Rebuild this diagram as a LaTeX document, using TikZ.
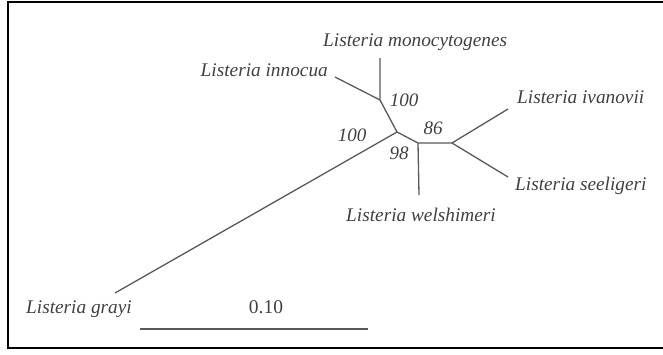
\documentclass[tikz,border=0pt]{standalone}
\usepackage{fontspec}
\setmainfont{Liberation Serif}
\begin{document}
\begin{tikzpicture}[x=1pt,y=-1pt,
  br/.style={draw=black!65, line width=1.3pt},
  lab/.style={inner sep=0pt, text=black!75, font=\fontsize{19.3}{22}\selectfont\itshape},
  num/.style={inner sep=0pt, text=black!75, font=\fontsize{19}{22}\selectfont\itshape},
  pt/.style={inner sep=0pt, minimum size=0pt}]
\useasboundingbox (0,0) rectangle (663,354);
\draw[line width=2pt] (663,2) -- (8,2) -- (8,348) -- (663,348);
% internal nodes
\coordinate (A) at (397,132);
\coordinate (B) at (380,100);
\coordinate (C) at (418,143);
\coordinate (D) at (452,143);
% leaf ends
\coordinate (gr) at (115,293);
\coordinate (mo) at (380,58);
\coordinate (in) at (335,77);
\coordinate (we) at (419,195);
\coordinate (iv) at (508,109);
\coordinate (se) at (508,177);
\draw[br] (gr) -- (A) -- (B) -- (mo);
\draw[br] (B) -- (in);
\draw[br] (A) -- (C) -- (D) -- (iv);
\draw[br] (C) -- (we);
\draw[br] (D) -- (se);
% labels
\node[lab, anchor=mid east] (Lgr) at (132,311) {Listeria grayi};
\node[lab, anchor=mid west] (Lmo) at (323,44) {Listeria monocytogenes};
\node[lab, anchor=mid east] (Lin) at (328,74) {Listeria innocua};
\node[lab, anchor=mid] (Lwe) at (421,219) {Listeria welshimeri};
\node[lab, anchor=mid west] (Liv) at (517,101) {Listeria ivanovii};
\node[lab, anchor=mid west] (Lse) at (515,188) {Listeria seeligeri};
\node[num, anchor=mid] (nB) at (404,104) {100};
\node[num, anchor=mid] (nA) at (352,139) {100};
\node[num, anchor=mid] (nC) at (399,157) {98};
\node[num, anchor=mid] (nD) at (433,132) {86};
% scale bar
\coordinate (s1) at (140,329);
\coordinate (s2) at (368,329);
\draw[br] (s1) -- (s2);
\node[inner sep=0pt, text=black!75, font=\fontsize{19.5}{22}\selectfont, anchor=mid] (sc) at (266,311) {0.10};
\end{tikzpicture}
\end{document}
